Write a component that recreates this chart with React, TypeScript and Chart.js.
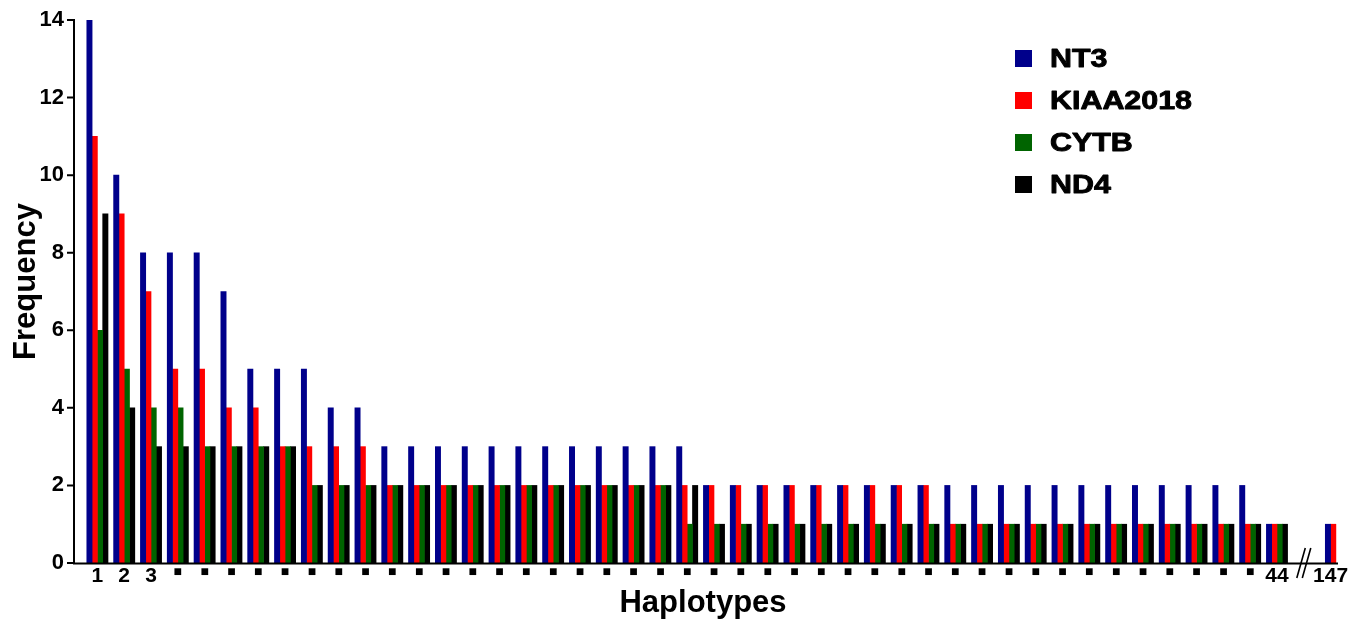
import React, { useEffect, useRef } from "react";
import { Chart, registerables } from "chart.js";

Chart.register(...registerables);

const FONT = "'Liberation Sans', Arial, Helvetica, sans-serif";

const seriesNames = ["NT3", "KIAA2018", "CYTB", "ND4"];
const seriesColors = ["#00008B", "#FF0000", "#006400", "#000000"];

// Haplotype axis labels ("■" marks the unnamed haplotypes, "" is the axis break)
const haplotypeLabels = [
  "1", "2", "3",
  "■", "■", "■", "■", "■", "■", "■", "■", "■", "■",
  "■", "■", "■", "■", "■", "■", "■", "■", "■", "■",
  "■", "■", "■", "■", "■", "■", "■", "■", "■", "■",
  "■", "■", "■", "■", "■", "■", "■", "■", "■", "■",
  "■",
  "44", "", "147",
];

const nt3 = [
  14, 10, 8, 8, 8, 7, 5, 5, 5, 4, 4,
  3, 3, 3, 3, 3, 3, 3, 3, 3, 3, 3, 3,
  2, 2, 2, 2, 2, 2, 2, 2, 2, 2, 2, 2, 2, 2, 2, 2, 2, 2, 2, 2, 2,
  1, null, 1,
];
const kiaa2018 = [
  11, 9, 7, 5, 5, 4, 4, 3, 3, 3, 3,
  2, 2, 2, 2, 2, 2, 2, 2, 2, 2, 2, 2, 2, 2, 2, 2, 2, 2, 2, 2, 2,
  1, 1, 1, 1, 1, 1, 1, 1, 1, 1, 1, 1, 1,
  null, 1,
];
const cytb = [
  6, 5, 4, 4, 3, 3, 3, 3, 2, 2, 2,
  2, 2, 2, 2, 2, 2, 2, 2, 2, 2, 2,
  1, 1, 1, 1, 1, 1, 1, 1, 1, 1, 1, 1, 1, 1, 1, 1, 1, 1, 1, 1, 1, 1, 1,
  null, null,
];
const nd4 = [
  9, 4, 3, 3, 3, 3, 3, 3, 2, 2, 2,
  2, 2, 2, 2, 2, 2, 2, 2, 2, 2, 2, 2,
  1, 1, 1, 1, 1, 1, 1, 1, 1, 1, 1, 1, 1, 1, 1, 1, 1, 1, 1, 1, 1, 1,
  null, null,
];
const seriesData = [nt3, kiaa2018, cytb, nd4];

const yMax = 14;
const yStep = 2;

const decorPlugin = {
  id: "decor",
  afterDraw(chart: any) {
    const { ctx, chartArea, scales } = chart;
    const xs = scales.x;
    const ys = scales.y;
    const axisX = chartArea.left - 10;
    const axisEnd = chartArea.right - 6;
    const base = ys.getPixelForValue(0);
    const top = ys.getPixelForValue(yMax);

    ctx.save();
    ctx.strokeStyle = "#000";
    ctx.lineWidth = 2;
    ctx.lineCap = "butt";
    ctx.beginPath();
    ctx.moveTo(axisX, top - 1);
    ctx.lineTo(axisX, base + 1.5);
    ctx.moveTo(axisX - 1, base + 0.5);
    ctx.lineTo(axisEnd, base + 0.5);
    ys.ticks.forEach((t: any) => {
      const py = ys.getPixelForValue(t.value);
      ctx.moveTo(axisX - 7, py);
      ctx.lineTo(axisX, py);
    });
    ctx.stroke();

    // axis break marks
    const breakIdx = haplotypeLabels.indexOf("");
    const bx = xs.getPixelForValue(breakIdx);
    ctx.lineWidth = 1.6;
    ctx.beginPath();
    ctx.moveTo(bx - 7, base + 15);
    ctx.lineTo(bx + 1.5, base - 15);
    ctx.moveTo(bx - 1.5, base + 15);
    ctx.lineTo(bx + 7, base - 15);
    ctx.stroke();

    // axis titles
    ctx.fillStyle = "#000";
    ctx.font = `bold 31px ${FONT}`;
    ctx.textAlign = "center";
    ctx.textBaseline = "alphabetic";
    ctx.fillText("Haplotypes", (axisX + axisEnd) / 2 - 3, base + 49);

    ctx.save();
    ctx.translate(axisX - 39, (top + base) / 2 - 10);
    ctx.rotate(-Math.PI / 2);
    ctx.fillText("Frequency", 0, 0);
    ctx.restore();

    // legend
    const lx = chartArea.right - 329;
    const ly = chartArea.top + 30;
    const rowH = 42;
    const box = 17;
    seriesNames.forEach((name, i) => {
      const y0 = ly + i * rowH;
      ctx.fillStyle = seriesColors[i];
      ctx.fillRect(lx, y0, box, box);
      ctx.fillStyle = "#000";
      ctx.strokeStyle = "#000";
      ctx.lineWidth = 0.9;
      ctx.lineJoin = "round";
      ctx.font = `bold 26px ${FONT}`;
      ctx.textAlign = "left";
      ctx.textBaseline = "middle";
      ctx.save();
      ctx.translate(lx + 35, y0 + box / 2 + 1);
      ctx.scale(1.17, 1);
      ctx.fillText(name, 0, 0);
      ctx.strokeText(name, 0, 0);
      ctx.restore();
    });
    ctx.restore();
  },
};

export default function App() {
  const canvasRef = useRef<HTMLCanvasElement | null>(null);

  useEffect(() => {
    const canvas = canvasRef.current;
    if (!canvas) return;
    Chart.defaults.font.family = FONT;
    const chart = new Chart(canvas, {
      type: "bar",
      data: {
        labels: haplotypeLabels,
        datasets: seriesNames.map((name, i) => ({
          label: name,
          data: seriesData[i],
          backgroundColor: seriesColors[i],
          borderWidth: 0,
          barThickness: 5.3,
          skipNull: true,
        })),
      },
      options: {
        animation: false,
        responsive: false,
        devicePixelRatio: 1,
        layout: { padding: { left: 0, right: 10, top: 20, bottom: 0 } },
        plugins: {
          legend: { display: false },
          tooltip: { enabled: false },
        },
        scales: {
          x: {
            grid: { display: false, drawTicks: false },
            border: { display: false },
            ticks: {
              autoSkip: false,
              maxRotation: 0,
              minRotation: 0,
              padding: 1,
              color: "#000",
              font: (c: any) =>
                haplotypeLabels[c.index] === "■"
                  ? { family: FONT, size: 14, weight: "bold" }
                  : { family: FONT, size: 21, weight: "bold" },
            },
            afterFit: (s: any) => {
              s.height = 58;
              s.paddingLeft = 0;
              s.paddingRight = 0;
            },
          },
          y: {
            min: 0,
            max: yMax,
            grid: { display: false, drawTicks: false },
            border: { display: false },
            ticks: {
              stepSize: yStep,
              padding: 20,
              color: "#000",
              font: { family: FONT, size: 22, weight: "bold" },
            },
            afterFit: (s: any) => {
              s.width = 84;
              s.paddingTop = 0;
              s.paddingBottom = 0;
            },
          },
        },
      },
      plugins: [decorPlugin],
    } as any);
    return () => chart.destroy();
  }, []);

  return (
    <canvas
      ref={canvasRef}
      width={1354}
      height={621}
      style={{ position: "fixed", left: 0, top: 0, width: 1354, height: 621, display: "block", background: "#fff" }}
    />
  );
}
